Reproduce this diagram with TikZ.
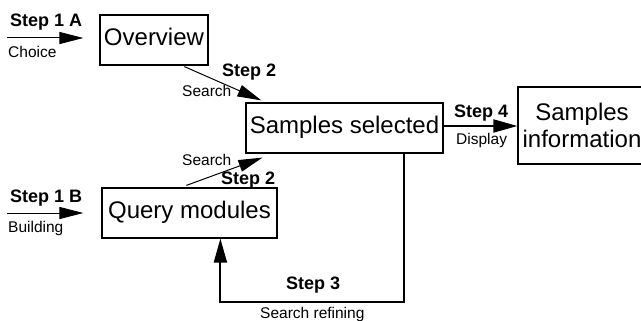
\documentclass[tikz,border=0pt]{standalone}
\usepackage{fontspec}
\setmainfont{Liberation Sans}
\usetikzlibrary{arrows.meta,calc}

\tikzset{
  box/.style={draw, line width=1.2pt, inner sep=0pt,
    font=\fontsize{24}{27}\selectfont, text height=17pt, text depth=6pt},
  stepfont/.style={font=\bfseries\fontsize{18}{20}\selectfont, anchor=base west, inner sep=0pt},
  actfont/.style={font=\fontsize{15.5}{18}\selectfont, anchor=base west, inner sep=0pt},
  flow/.style={line width=1pt, -{Triangle[length=24pt,width=12pt]}},
  heavyflow/.style={line width=1.9pt, -{Triangle[length=24pt,width=13pt]}},
}

\begin{document}
\begin{tikzpicture}[x=1pt, y=-1pt]
\useasboundingbox (0,0) rectangle (641,321);

% boxes
\node[box, minimum width=108pt, minimum height=50pt] (ov) at (154,40) {Overview};
\node[box, minimum width=197pt, minimum height=50pt] (ss) at (344.5,128) {Samples selected};
\node[box, minimum width=175pt, minimum height=50pt] (qm) at (189.5,213) {Query modules};
\node[box, minimum width=128pt, minimum height=77pt, align=center,
      text height=, text depth=] (info) at (582,125.5) {Samples\\information};

% free ends of the entry arrows
\coordinate (in1) at (7,38);
\coordinate (in2) at (7,213);

% step 1
\draw[flow] (in1) -- ($(ov.west |- in1)+(-16,0)$);
\draw[flow] (in2) -- ($(qm.west |- in2)+(-18,0)$);

% step 2
\draw[flow] ($(ov.south west)+(85,1)$) -- ($(ss.north west)+(16,-2)$);
\draw[flow] ($(qm.north west)+(85,-2)$) -- ($(ss.south west)+(17,4)$);

% step 4
\draw[heavyflow] ($(ss.east)+(0,-2)$) -- ($(info.west |- ss.east)+(0,-2)$);

% step 3: refining loop
\draw[heavyflow] ($(ss.south west)+(159,0)$) |- ($(qm.south west)+(119,63)$)
  -- ($(qm.south west)+(119,0)$);

% labels
\node[stepfont] (l1a) at (10,27) {Step 1 A};
\node[actfont]  (a1a) at (8,58) {Choice};
\node[stepfont] (l2a) at (222,77) {Step 2};
\node[actfont]  (a2a) at (182,97) {Search};
\node[actfont]  (a2b) at (182,166) {Search};
\node[stepfont] (l2b) at (221,185) {Step 2};
\node[stepfont] (l4)  at (454,118) {Step 4};
\node[actfont]  (a4)  at (456,145) {Display};
\node[stepfont] (l1b) at (10,203) {Step 1 B};
\node[actfont]  (a1b) at (8,233) {Building};
\node[stepfont] (l3)  at (286,289) {Step 3};
\node[actfont]  (a3)  at (260,318) {Search refining};
\end{tikzpicture}
\end{document}
